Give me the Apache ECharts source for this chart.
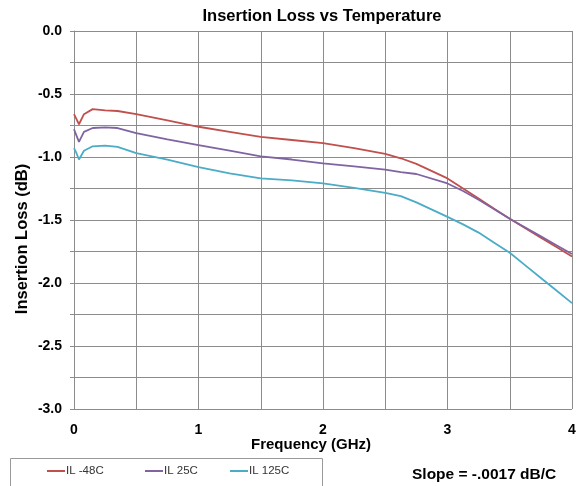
<!DOCTYPE html>
<html>
<head>
<meta charset="utf-8">
<script src="https://cdn.jsdelivr.net/npm/echarts@6/dist/echarts.min.js"></script>
<style>
    html, body {margin:0;padding:0;background:#ffffff;}
    #chart {width:587px;height:486px;}
</style>
</head>
<body>
<div id="chart"></div>
<script>
    // frequency points (GHz)
    var freq = [0, 0.02, 0.04, 0.08, 0.15, 0.25, 0.35, 0.5, 0.75, 1.0, 1.25, 1.5, 1.75, 2.0, 2.25, 2.5, 2.625, 2.75, 3.0, 3.125, 3.25, 3.375, 3.5, 3.625, 3.75, 3.875, 4.0];
    // insertion loss (dB)
    var ilM48 = [-0.66, -0.70, -0.74, -0.66, -0.62, -0.63, -0.635, -0.66, -0.71, -0.76, -0.80, -0.84, -0.865, -0.89, -0.93, -0.975, -1.01, -1.055, -1.17, -1.25, -1.33, -1.41, -1.49, -1.565, -1.64, -1.715, -1.79];
    var il25 = [-0.78, -0.83, -0.88, -0.80, -0.77, -0.765, -0.77, -0.81, -0.86, -0.905, -0.95, -0.995, -1.02, -1.05, -1.075, -1.10, -1.12, -1.135, -1.21, -1.27, -1.34, -1.415, -1.49, -1.56, -1.63, -1.70, -1.77];
    var il125 = [-0.93, -0.97, -1.02, -0.95, -0.915, -0.91, -0.92, -0.97, -1.02, -1.08, -1.13, -1.17, -1.185, -1.21, -1.245, -1.285, -1.31, -1.36, -1.475, -1.535, -1.60, -1.68, -1.76, -1.86, -1.96, -2.06, -2.16];

    var seriesNames = ['IL -48C', 'IL 25C', 'IL 125C'];
    var seriesColors = ['#c0504d', '#8064a2', '#4bacc6'];

    function pairs(ys) {
        return freq.map(function (f, i) { return [f, ys[i]]; });
    }

    var myChart = echarts.init(document.getElementById('chart'));
    var font = 'Liberation Sans, Arial, sans-serif';

    // one legend per entry so the spacing matches the box
    var legendLeft = [47, 145, 230];
    var legends = seriesNames.map(function (n, i) {
        return {
            left: legendLeft[i],
            top: 465,
            padding: 0,
            itemWidth: 18,
            itemHeight: 2,
            itemGap: 0,
            icon: 'rect',
            data: [n],
            textStyle: {fontFamily: font, fontSize: 11.5, color: '#333', padding: [0, 0, 0, -4]}
        };
    });

    var option = {
        animation: false,
        title: {
            text: 'Insertion Loss vs Temperature',
            left: 317,
            top: 3,
            textAlign: 'center',
            textStyle: {fontFamily: font, fontSize: 16.5, fontWeight: 'bold', color: '#000'}
        },
        grid: {left: 74, right: 15, top: 31, bottom: 77},
        legend: legends,
        xAxis: {
            type: 'value',
            min: 0,
            max: 4,
            interval: 0.5,
            axisLine: {lineStyle: {color: '#8c8c8c'}},
            axisTick: {show: true, length: 3, lineStyle: {color: '#8c8c8c'}},
            axisLabel: {
                fontFamily: font, fontSize: 14, fontWeight: 'bold', color: '#000', margin: 14,
                formatter: function (v) { return v % 1 === 0 ? String(v) : ''; }
            },
            splitLine: {lineStyle: {color: '#8c8c8c', width: 1}}
        },
        yAxis: {
            type: 'value',
            min: -3,
            max: 0,
            interval: 0.25,
            axisLine: {show: true, lineStyle: {color: '#8c8c8c'}},
            axisTick: {show: true, length: 4, lineStyle: {color: '#8c8c8c'}},
            axisLabel: {
                fontFamily: font, fontSize: 14, fontWeight: 'bold', color: '#000', margin: 12,
                formatter: function (v) {
                    return Math.abs(v * 2 - Math.round(v * 2)) < 1e-9 ? v.toFixed(1) : '';
                }
            },
            splitLine: {lineStyle: {color: '#8c8c8c', width: 1}}
        },
        graphic: [
            {
                type: 'rect',
                shape: {x: 10.5, y: 458.5, width: 312, height: 40},
                style: {fill: 'none', stroke: '#9a9a9a', lineWidth: 1}
            },
            {
                type: 'text',
                x: 311,
                y: 452,
                style: {text: 'Frequency (GHz)', fontFamily: font, fontSize: 15, fontWeight: 'bold', fill: '#000', align: 'center', verticalAlign: 'bottom'}
            },
            {
                type: 'text',
                x: 22,
                y: 239,
                rotation: Math.PI / 2,
                style: {text: 'Insertion Loss (dB)', fontFamily: font, fontSize: 16.5, fontWeight: 'bold', fill: '#000', align: 'center', verticalAlign: 'middle'}
            },
            {
                type: 'text',
                x: 412,
                y: 467,
                style: {text: 'Slope = -.0017 dB/C', fontFamily: font, fontSize: 15.5, fontWeight: 'bold', fill: '#000'}
            }
        ],
        series: [
            {name: seriesNames[0], type: 'line', symbol: 'none', data: pairs(ilM48), lineStyle: {width: 1.8, color: seriesColors[0]}, itemStyle: {color: seriesColors[0]}},
            {name: seriesNames[1], type: 'line', symbol: 'none', data: pairs(il25), lineStyle: {width: 1.8, color: seriesColors[1]}, itemStyle: {color: seriesColors[1]}},
            {name: seriesNames[2], type: 'line', symbol: 'none', data: pairs(il125), lineStyle: {width: 1.8, color: seriesColors[2]}, itemStyle: {color: seriesColors[2]}}
        ]
    };
    myChart.setOption(option);
</script>
</body>
</html>
